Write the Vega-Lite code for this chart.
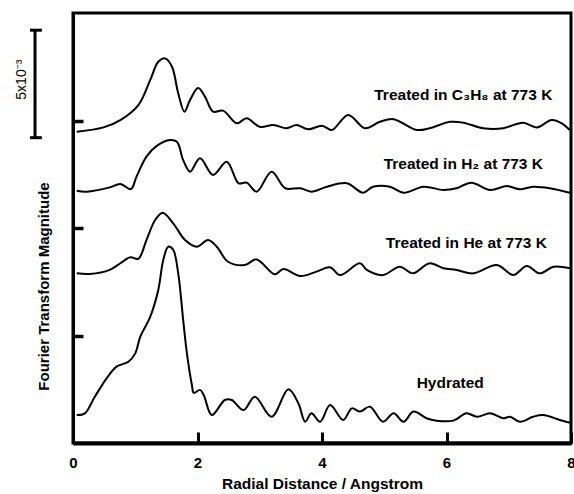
{
  "$schema": "https://vega.github.io/schema/vega-lite/v6.json",
  "width": 498,
  "height": 430,
  "autosize": "none",
  "padding": {"left": 73, "top": 13, "right": 3, "bottom": 51},
  "background": "white",
  "config": {
    "font": "Liberation Sans",
    "view": {"stroke": "black", "strokeWidth": 3},
    "axis": {
      "grid": false,
      "domainColor": "black",
      "tickColor": "black",
      "labelColor": "black",
      "titleColor": "black",
      "labelFont": "Liberation Sans",
      "titleFont": "Liberation Sans",
      "labelFontWeight": "bold",
      "titleFontWeight": "bold"
    }
  },
  "datasets": {
    "curves": [
      {"series": "C3H8", "r": 0.06, "m": 14.48}, {"series": "C3H8", "r": 0.49, "m": 14.68}, {"series": "C3H8", "r": 0.76, "m": 15.02},
      {"series": "C3H8", "r": 1.05, "m": 15.72}, {"series": "C3H8", "r": 1.24, "m": 16.88}, {"series": "C3H8", "r": 1.37, "m": 17.73},
      {"series": "C3H8", "r": 1.48, "m": 17.89}, {"series": "C3H8", "r": 1.59, "m": 17.5}, {"series": "C3H8", "r": 1.69, "m": 16.27},
      {"series": "C3H8", "r": 1.79, "m": 15.41}, {"series": "C3H8", "r": 1.88, "m": 15.95}, {"series": "C3H8", "r": 2.01, "m": 16.51},
      {"series": "C3H8", "r": 2.12, "m": 16.11}, {"series": "C3H8", "r": 2.25, "m": 15.41}, {"series": "C3H8", "r": 2.41, "m": 15.46},
      {"series": "C3H8", "r": 2.63, "m": 14.87}, {"series": "C3H8", "r": 2.79, "m": 15.1}, {"series": "C3H8", "r": 3.0, "m": 14.71},
      {"series": "C3H8", "r": 3.22, "m": 14.79}, {"series": "C3H8", "r": 3.43, "m": 14.64}, {"series": "C3H8", "r": 3.59, "m": 14.79},
      {"series": "C3H8", "r": 3.78, "m": 14.59}, {"series": "C3H8", "r": 4.0, "m": 14.76}, {"series": "C3H8", "r": 4.16, "m": 14.56},
      {"series": "C3H8", "r": 4.42, "m": 15.26}, {"series": "C3H8", "r": 4.69, "m": 14.64}, {"series": "C3H8", "r": 4.93, "m": 14.94},
      {"series": "C3H8", "r": 5.15, "m": 15.06}, {"series": "C3H8", "r": 5.52, "m": 14.56}, {"series": "C3H8", "r": 5.73, "m": 14.64},
      {"series": "C3H8", "r": 6.06, "m": 14.94}, {"series": "C3H8", "r": 6.27, "m": 14.9}, {"series": "C3H8", "r": 6.59, "m": 14.64},
      {"series": "C3H8", "r": 6.91, "m": 14.64}, {"series": "C3H8", "r": 7.23, "m": 14.9}, {"series": "C3H8", "r": 7.45, "m": 14.68},
      {"series": "C3H8", "r": 7.69, "m": 15.02}, {"series": "C3H8", "r": 7.85, "m": 14.87}, {"series": "C3H8", "r": 7.98, "m": 14.56},

      {"series": "H2", "r": 0.06, "m": 11.73}, {"series": "H2", "r": 0.22, "m": 11.69}, {"series": "H2", "r": 0.59, "m": 11.89},
      {"series": "H2", "r": 0.76, "m": 12.05}, {"series": "H2", "r": 0.93, "m": 11.81}, {"series": "H2", "r": 1.02, "m": 12.39},
      {"series": "H2", "r": 1.18, "m": 13.32}, {"series": "H2", "r": 1.34, "m": 13.81}, {"series": "H2", "r": 1.56, "m": 14.09},
      {"series": "H2", "r": 1.67, "m": 14.01}, {"series": "H2", "r": 1.77, "m": 13.16}, {"series": "H2", "r": 1.88, "m": 12.62},
      {"series": "H2", "r": 2.04, "m": 13.24}, {"series": "H2", "r": 2.25, "m": 12.47}, {"series": "H2", "r": 2.47, "m": 13.08},
      {"series": "H2", "r": 2.66, "m": 12.08}, {"series": "H2", "r": 2.79, "m": 12.11}, {"series": "H2", "r": 2.95, "m": 11.69},
      {"series": "H2", "r": 3.19, "m": 12.62}, {"series": "H2", "r": 3.41, "m": 11.85}, {"series": "H2", "r": 3.65, "m": 11.85},
      {"series": "H2", "r": 3.83, "m": 11.69}, {"series": "H2", "r": 4.08, "m": 11.92}, {"series": "H2", "r": 4.4, "m": 12.08},
      {"series": "H2", "r": 4.66, "m": 11.64}, {"series": "H2", "r": 4.82, "m": 11.92}, {"series": "H2", "r": 5.09, "m": 11.92},
      {"series": "H2", "r": 5.31, "m": 11.64}, {"series": "H2", "r": 5.63, "m": 11.92}, {"series": "H2", "r": 5.95, "m": 11.77},
      {"series": "H2", "r": 6.16, "m": 11.85}, {"series": "H2", "r": 6.4, "m": 12.11}, {"series": "H2", "r": 6.7, "m": 11.77},
      {"series": "H2", "r": 6.97, "m": 11.95}, {"series": "H2", "r": 7.18, "m": 11.8}, {"series": "H2", "r": 7.39, "m": 11.92},
      {"series": "H2", "r": 7.66, "m": 11.85}, {"series": "H2", "r": 7.98, "m": 11.64},

      {"series": "He", "r": 0.06, "m": 7.89}, {"series": "He", "r": 0.27, "m": 7.86}, {"series": "He", "r": 0.59, "m": 8.05},
      {"series": "He", "r": 0.76, "m": 8.36}, {"series": "He", "r": 0.92, "m": 8.64}, {"series": "He", "r": 1.05, "m": 8.57},
      {"series": "He", "r": 1.18, "m": 9.44}, {"series": "He", "r": 1.32, "m": 10.37}, {"series": "He", "r": 1.44, "m": 10.71},
      {"series": "He", "r": 1.61, "m": 10.22}, {"series": "He", "r": 1.8, "m": 9.44}, {"series": "He", "r": 1.99, "m": 9.13},
      {"series": "He", "r": 2.17, "m": 9.44}, {"series": "He", "r": 2.31, "m": 9.13}, {"series": "He", "r": 2.49, "m": 8.43},
      {"series": "He", "r": 2.76, "m": 8.28}, {"series": "He", "r": 2.95, "m": 8.54}, {"series": "He", "r": 3.24, "m": 7.85},
      {"series": "He", "r": 3.38, "m": 8.09}, {"series": "He", "r": 3.65, "m": 7.77}, {"series": "He", "r": 3.91, "m": 7.97},
      {"series": "He", "r": 4.13, "m": 8.17}, {"series": "He", "r": 4.29, "m": 7.81}, {"series": "He", "r": 4.61, "m": 8.36},
      {"series": "He", "r": 4.72, "m": 8.05}, {"series": "He", "r": 4.98, "m": 7.81}, {"series": "He", "r": 5.25, "m": 8.2},
      {"series": "He", "r": 5.46, "m": 7.89}, {"series": "He", "r": 5.73, "m": 8.36}, {"series": "He", "r": 5.95, "m": 8.13},
      {"series": "He", "r": 6.16, "m": 8.05}, {"series": "He", "r": 6.43, "m": 7.89}, {"series": "He", "r": 6.81, "m": 8.28},
      {"series": "He", "r": 7.07, "m": 7.81}, {"series": "He", "r": 7.29, "m": 8.23}, {"series": "He", "r": 7.5, "m": 7.89},
      {"series": "He", "r": 7.72, "m": 8.2}, {"series": "He", "r": 7.98, "m": 8.13},

      {"series": "Hydrated", "r": 0.06, "m": 1.3}, {"series": "Hydrated", "r": 0.19, "m": 1.38}, {"series": "Hydrated", "r": 0.35, "m": 2.15},
      {"series": "Hydrated", "r": 0.54, "m": 3.01}, {"series": "Hydrated", "r": 0.7, "m": 3.55}, {"series": "Hydrated", "r": 0.89, "m": 3.78},
      {"series": "Hydrated", "r": 1.0, "m": 4.17}, {"series": "Hydrated", "r": 1.08, "m": 4.94}, {"series": "Hydrated", "r": 1.24, "m": 5.87},
      {"series": "Hydrated", "r": 1.37, "m": 7.12}, {"series": "Hydrated", "r": 1.45, "m": 8.51}, {"series": "Hydrated", "r": 1.53, "m": 9.13},
      {"series": "Hydrated", "r": 1.61, "m": 8.98}, {"series": "Hydrated", "r": 1.69, "m": 7.89}, {"series": "Hydrated", "r": 1.77, "m": 5.72},
      {"series": "Hydrated", "r": 1.83, "m": 4.17}, {"series": "Hydrated", "r": 1.91, "m": 2.7}, {"series": "Hydrated", "r": 1.94, "m": 2.33},
      {"series": "Hydrated", "r": 2.04, "m": 2.47}, {"series": "Hydrated", "r": 2.1, "m": 2.23}, {"series": "Hydrated", "r": 2.23, "m": 1.3},
      {"series": "Hydrated", "r": 2.44, "m": 2.0}, {"series": "Hydrated", "r": 2.55, "m": 2.0}, {"series": "Hydrated", "r": 2.74, "m": 1.53},
      {"series": "Hydrated", "r": 2.92, "m": 2.15}, {"series": "Hydrated", "r": 3.19, "m": 1.22}, {"series": "Hydrated", "r": 3.46, "m": 2.5},
      {"series": "Hydrated", "r": 3.62, "m": 1.85}, {"series": "Hydrated", "r": 3.73, "m": 0.99}, {"series": "Hydrated", "r": 3.83, "m": 1.38},
      {"series": "Hydrated", "r": 3.97, "m": 0.99}, {"series": "Hydrated", "r": 4.13, "m": 1.77}, {"series": "Hydrated", "r": 4.34, "m": 1.07},
      {"series": "Hydrated", "r": 4.48, "m": 1.61}, {"series": "Hydrated", "r": 4.61, "m": 1.46}, {"series": "Hydrated", "r": 4.77, "m": 1.69},
      {"series": "Hydrated", "r": 4.98, "m": 0.99}, {"series": "Hydrated", "r": 5.15, "m": 1.38}, {"series": "Hydrated", "r": 5.31, "m": 0.99},
      {"series": "Hydrated", "r": 5.47, "m": 1.46}, {"series": "Hydrated", "r": 5.68, "m": 1.15}, {"series": "Hydrated", "r": 5.84, "m": 1.04},
      {"series": "Hydrated", "r": 6.11, "m": 1.04}, {"series": "Hydrated", "r": 6.32, "m": 1.38}, {"series": "Hydrated", "r": 6.49, "m": 1.22},
      {"series": "Hydrated", "r": 6.7, "m": 1.38}, {"series": "Hydrated", "r": 6.91, "m": 1.15}, {"series": "Hydrated", "r": 7.02, "m": 1.22},
      {"series": "Hydrated", "r": 7.18, "m": 0.99}, {"series": "Hydrated", "r": 7.39, "m": 1.22}, {"series": "Hydrated", "r": 7.55, "m": 1.3},
      {"series": "Hydrated", "r": 7.82, "m": 1.07}, {"series": "Hydrated", "r": 7.98, "m": 0.94}
    ],
    "labels": [
      {"label": "Treated in C₃H₈ at 773 K", "r": 6.27, "m": 16.2},
      {"label": "Treated in H₂ at 773 K", "r": 6.27, "m": 13.0},
      {"label": "Treated in He at 773 K", "r": 6.32, "m": 9.29},
      {"label": "Hydrated", "r": 6.06, "m": 2.8}
    ],
    "scalebar": [
      {"r": -0.61, "m": 14.2, "m2": 19.2}
    ],
    "scalecaps": [
      {"r": -0.69, "r2": -0.5, "m": 14.2},
      {"r": -0.69, "r2": -0.5, "m": 19.2}
    ],
    "scaletext": [
      {"text": "5x10⁻³", "r": -0.82, "m": 16.9}
    ]
  },
  "layer": [
    {
      "data": {"name": "curves"},
      "mark": {"type": "line", "interpolate": "catmull-rom", "color": "black", "strokeWidth": 2},
      "encoding": {
        "x": {
          "field": "r", "type": "quantitative",
          "scale": {"domain": [0, 8], "nice": false, "zero": false},
          "axis": {
            "title": "Radial Distance / Angstrom",
            "values": [0, 2, 4, 6, 8],
            "format": "d",
            "labelFontSize": 15,
            "labelPadding": 23,
            "labelFlush": false,
            "tickSize": -11,
            "tickWidth": 3,
            "domainWidth": 4,
            "titleFontSize": 15.5,
            "titlePadding": 6
          }
        },
        "y": {
          "field": "m", "type": "quantitative",
          "scale": {"domain": [0, 20], "nice": false},
          "axis": {
            "title": "Fourier Transform Magnitude",
            "values": [5, 10, 15],
            "labels": false,
            "tickSize": -10,
            "tickWidth": 3.5,
            "domainWidth": 3,
            "titleFontSize": 15,
            "titleAngle": 270,
            "titleX": -30,
            "titleY": 273,
            "titleAlign": "center",
            "titleBaseline": "middle"
          }
        },
        "detail": {"field": "series"}
      }
    },
    {
      "data": {"name": "labels"},
      "mark": {"type": "text", "font": "Liberation Sans", "fontWeight": "bold", "fontSize": 15.5, "align": "center", "baseline": "middle", "color": "black"},
      "encoding": {
        "x": {"field": "r", "type": "quantitative"},
        "y": {"field": "m", "type": "quantitative"},
        "text": {"field": "label"}
      }
    },
    {
      "data": {"name": "scalebar"},
      "mark": {"type": "rule", "color": "black", "strokeWidth": 3},
      "encoding": {
        "x": {"field": "r", "type": "quantitative"},
        "y": {"field": "m", "type": "quantitative"},
        "y2": {"field": "m2"}
      }
    },
    {
      "data": {"name": "scalecaps"},
      "mark": {"type": "rule", "color": "black", "strokeWidth": 3},
      "encoding": {
        "x": {"field": "r", "type": "quantitative"},
        "x2": {"field": "r2"},
        "y": {"field": "m", "type": "quantitative"}
      }
    },
    {
      "data": {"name": "scaletext"},
      "mark": {"type": "text", "font": "Liberation Sans", "fontSize": 14, "angle": 270, "align": "center", "baseline": "middle", "color": "black"},
      "encoding": {
        "x": {"field": "r", "type": "quantitative"},
        "y": {"field": "m", "type": "quantitative"},
        "text": {"field": "text"}
      }
    }
  ]
}
